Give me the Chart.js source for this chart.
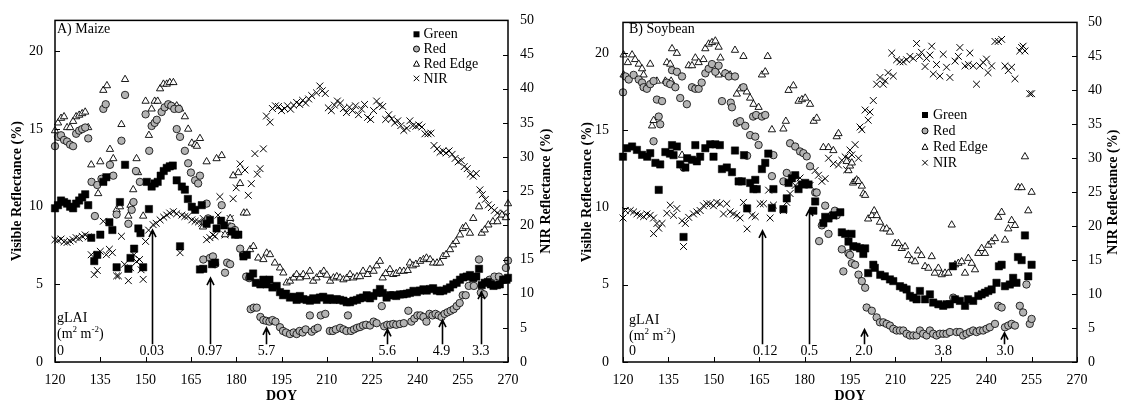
<!DOCTYPE html>
<html><head><meta charset="utf-8">
<script src="https://cdn.jsdelivr.net/npm/chart.js@4.4.0/dist/chart.umd.min.js"></script>
<style>
html,body{margin:0;padding:0;background:#fff;}
#wrap{position:relative;width:1122px;height:405px;overflow:hidden;}
canvas{position:absolute;top:0;}
</style></head><body>
<div id="wrap">
<canvas id="cA" width="561" height="405" style="left:0"></canvas>
<canvas id="cB" width="561" height="405" style="left:561px"></canvas>
</div>
<script>
// ---------- axis settings ----------
const doyMin = 120, doyMax = 270, doyStep = 15;
const visMax = 22, visStep = 5;
const nirMax = 50, nirStep = 5;
const seriesNames = ['Green', 'Red', 'Red Edge', 'NIR'];
const xTitle = 'DOY';
const leftTitle = 'Visible Reflectance (%)';
const rightTitle = 'NIR Reflectance (%)';

// ---------- Maize data [DOY, reflectance %] ----------
const maizeGreen = [[120,9.9],[121,10.1],[122,10.4],[123,10.3],[124,10.2],[125,10.0],[126,9.9],[127,10.2],[128,10.4],[129,10.6],[130,10.8],[131,10.1],
[132,8.0],[133,6.5],[134,6.9],[135,8.2],[136,11.6],[137,11.9],[138,9.0],[139,8.5],[140.4,6.1],[141.5,10.3],[143.2,12.7],[144.3,6.0],[145,6.7],[146.2,7.3],[147.6,8.6],[148.3,8.3],[149.2,6.1],
[150.4,11.6],[151.1,9.85],[152,11.3],[153,11.5],[154,11.6],[155,12.0],[156,12.3],[157,12.5],[158,12.6],[159,12.65],[160.3,11.7],[161.4,7.45],[162,11.3],[163,11.1],[164,10.5],[165.3,10.0],[166.4,9.8],[168,5.96],[168.6,10.1],[169.1,6.0],[170.2,8.9],[171.3,9.15],[172,6.3],[173,6.4],[173.5,8.6],[175,9.1],[176,8.8],[178.5,8.4],[179.6,8.2],[180.7,8.2],[182.4,6.8],[183.5,6.9],[184.6,5.5],[185.6,5.7],[186.5,5.1],[188,5.0],[189,5.3],[190,5.0],[191,5.3],[192,4.8],[193.4,4.9],[194.5,4.5],
[195.5,4.3],[196.5,4.4],[197.8,4.15],[199,4.2],[200,4.0],[201.1,4.25],[202.2,4.05],[203.3,4.0],[204.4,3.95],[205.5,4.1],[206.6,4.0],[207.7,4.15],[208.8,4.2],[210,4.0],[211,4.1],[212.2,4.0],[213.3,4.05],[214.4,4.0],[215.5,3.95],[216.6,3.85],[217.7,3.85],[218.8,3.95],[220,4.0],[221,4.1],[222,4.15],[223.2,4.3],[224.3,4.1],[225.4,4.25],[226.5,4.45],[227.6,4.7],[228.5,4.45],[229.8,4.15],[230.9,4.3],[232,4.3],[233,4.25],[234.2,4.35],[235.4,4.36],[236.5,4.4],[237.5,4.45],[238.7,4.58],[239.8,4.5],[240.9,4.6],[242,4.68],[243.1,4.6],[244.2,4.7],[245.2,4.75],[246.4,4.6],[247.5,4.55],[248.6,4.6],[249.7,4.7],[250.8,4.8],[251.9,5.0],[253,5.1],[254.1,5.3],[255.2,5.45],[256.3,5.5],[257.4,5.6],[258.5,5.4],[259.5,5.5],[260.4,6.0],[261.3,4.95],[262.3,5.1],[263.3,5.15],[264.3,5.0],[265.2,4.9],[266.3,4.95],[267.3,5.0],[268.4,5.3],[269.5,5.3],[270,5.42]];

const maizeRed = [[120,13.9],[121,14.5],[122,14.6],[123,14.3],[124,14.2],[125,14.0],[126,13.9],[127,14.7],[128,14.9],[129,15.0],[130,15.1],[131,14.4],
[132.1,11.6],[133.2,9.4],[134,11.4],[135.4,11.8],[136,16.3],[136.8,16.6],[138.2,12.7],[139.3,12.0],[140.4,9.5],[142,14.25],[143.2,17.2],[144.3,8.9],[145.4,9.8],[146,10.3],[146.8,12.3],[148.1,11.6],[150,15.95],[151.2,13.6],[152,15.2],[153,15.4],[153.7,15.6],[155.3,16.1],[156.3,16.4],[157.5,16.6],[158.5,16.5],[159.5,16.3],[160.3,15.0],[161,16.3],[161.4,14.5],[163,13.6],[164.1,12.8],[165,12.2],[166.4,11.7],[167.4,11.5],[168,12.0],[169.1,6.6],[169.7,9.0],[170.2,10.2],[170.7,9.25],[171.3,6.7],[172.3,6.8],[173,6.3],[175.2,10.1],[176.3,5.75],[177,6.4],[178,6.3],[178.5,8.7],[179.6,8.5],[181.3,7.3],[182.3,6.9],[183.3,5.5],[184.3,5.4],[184.8,3.4],[185.8,3.5],[186.8,3.5],[188,2.9],[189,2.7],[190,2.65],[191,2.6],[192,2.7],[193,2.6],[194.5,2.24],
[195.5,2.0],[196.5,1.9],[197.8,1.8],[199,1.9],[200,1.8],[201,2.0],[202,1.9],[203,2.1],[204.4,3.0],[205,1.95],[206,2.1],[207,2.2],[208,3.0],[209.5,3.1],[211,2.0],[212,2.0],[213,2.1],[214.4,2.2],[215.5,2.1],[216.5,2.0],[217,3.0],[218,2.0],[219,2.1],[220,2.2],[221,2.25],[222,2.35],[223,2.4],[224.3,2.35],[225.5,2.6],[226.5,2.5],[228.2,3.6],[229,2.3],[230,2.4],[231,2.4],[232,2.45],[233,2.4],[234.2,2.45],[235.5,2.5],[237,3.3],[238,2.6],[239,2.8],[240,3.0],[241,3.0],[242,2.9],[243,2.6],[244,3.1],[245,3.0],[246,3.1],[247,3.0],[248,2.9],[249,3.1],[250,3.2],[251,3.3],[252,3.4],[253,3.6],[254,3.8],[255,4.3],[256,4.3],[257,4.9],[258.7,4.9],[260.4,6.6],[261,4.47],[262,4.36],[263.9,5.3],[265.5,5.5],[267,5.5],[268.5,5.3],[269.3,6.06],[270,6.53]];

const maizeRedEdge = [[120,14.9],[121,15.4],[122,15.7],[123,15.8],[124,15.1],[125,15.1],[126,15.5],[127,15.8],[128,15.9],[129,16.0],[130,16.1],[131,15.1],
[132,12.7],[134.3,10.85],[135,12.9],[136,17.5],[137.2,17.8],[138.2,13.7],[139.3,13.1],[140.4,9.8],[141.5,10.0],[142,15.3],[143.2,18.2],[144.3,9.4],[145,10.1],[145.9,11.1],[147,13.1],[147.5,12.2],[149.2,9.4],[150,16.8],[151.1,14.6],[152,16.3],[153,16.8],[154,16.8],[154.8,17.6],[155.9,17.9],[157,17.9],[158,18.0],[159.2,18.0],[160.3,16.5],[161.4,16.3],[163,15.8],[164.1,15.0],[165.3,14.1],[166.4,14.0],[167,13.9],[168,14.4],[169,8.7],[170.2,12.9],[173.5,13.1],[175.2,13.3],[176.3,8.2],[178,9.25],[179,12.0],[180.7,12.2],[181.3,11.5],[182.5,9.6],[183.5,9.6],[184.6,7.24],[185.7,7.45],[187.3,6.7],[189,6.6],[190.1,7.02],[191.2,6.92],[192.8,6.38],[194.5,6.06],[195.6,5.74],[196.7,5.1],
[197.8,5.21],[199,5.42],[200,5.64],[201.1,5.42],[202.2,5.64],[203.3,5.5],[204.4,5.85],[205.5,5.21],[206.6,5.42],[207.8,5.64],[209,5.85],[210,5.6],[211.1,5.21],[212.2,5.42],[213.3,5.5],[214.4,5.42],[215.5,5.3],[216.6,5.4],[217.7,5.64],[218.8,5.42],[220,5.5],[221,5.5],[222,5.85],[223.5,5.64],[224.3,5.96],[225.5,5.85],[226.5,6.2],[227.6,6.49],[228.5,5.42],[229.5,5.7],[230.9,5.96],[232,5.64],[233,5.7],[234.2,5.85],[235.5,5.85],[236.8,5.9],[237.5,6.38],[238.5,6.2],[239.5,6.3],[240.9,6.49],[242,6.6],[243,6.7],[244.2,6.6],[245.2,6.38],[246.5,6.38],[247.5,6.38],[248.5,6.8],[249.5,6.92],[250.8,7.24],[251.8,7.55],[252.8,7.77],[254.1,8.19],[255,8.6],[256,8.72],[257.4,8.3],[258.5,9.25],[260.4,10.0],[261.3,8.3],[262.3,8.51],[263.5,8.83],[265,9.04],[266.5,9.04],[268,9.47],[269.3,9.3],[270,10.2]];

const maizeNIR = [[120,17.9],[121,17.8],[122,18.0],[123,17.6],[124,17.5],[125,17.7],[126,17.9],[127,18.2],[128,18.1],[129,18.4],[130,18.6],[131,18.3],
[132,15.7],[133,12.8],[134,13.4],[135,16.2],[136,20.6],[137,15.7],[138,16.5],[139,16.0],[140.4,12.6],[141,12.6],[142,18.4],[143,14.3],[144.3,11.9],[145,13.8],[146.2,15.7],[147,14.7],[148,15.0],[148.5,13.5],[149.2,12.1],[150,17.65],
[151,19.3],[152.5,20.1],[153.5,20.3],[154.8,20.8],[156,21.2],[157,21.5],[158,21.8],[159.2,22.0],[160.3,21.7],[161.4,16.0],[162,21.5],[163,21.3],[164,21.3],[165.3,20.8],[166.4,20.6],[167.5,20.5],[168.6,20.3],[169.1,21.0],[170.2,17.9],[171.3,18.2],[172.3,18.6],[173,18.4],[174,21.5],[174.6,24.2],[176.3,18.6],[177,20.0],[178,21.0],[179,23.9],[180,25.5],[181.3,29.0],[182.9,28.1],[184,24.4],[185,26.1],[186.2,30.5],[187,27.5],[187.9,28.3],[189,31.2],[190,36.0],
[191.2,35.1],[192,37.1],[193,37.5],[194,37.4],[195,36.8],[196,37.1],[197,37.5],[198,37.0],[199,37.6],[200,38.0],[201,37.7],[202,38.3],[203,37.9],[204,38.5],[205,39.0],[206.6,39.4],[207.7,40.4],[208.5,39.7],[209.5,39.3],[210.5,37.2],[211.5,36.8],[212.5,37.6],[213.5,38.2],[214.5,37.9],[215.5,37.1],[216.5,36.5],[217.5,37.3],[218.5,36.8],[219.5,37.5],[220.5,36.2],[221.5,37.0],[222.5,37.7],[223.5,35.8],[224.5,35.5],[225.5,36.8],[226.5,38.2],[227.5,37.6],[228.5,37.4],[229.5,35.5],[230.5,36.2],[231.5,35.6],[232.5,35.0],[233.5,35.3],[234.5,34.6],[235.5,33.9],[236.5,34.2],[237.5,35.3],[238.5,34.6],[239.5,34.5],[240.5,34.7],[241.5,34.4],[242.5,33.4],[243.5,33.4],[244.5,33.5],[245.5,31.7],[246.5,31.2],[247.5,30.7],[248.5,30.9],[249.5,30.6],[250.5,30.9],[251.5,30.4],[252.5,29.8],[253.5,29.3],[254.5,29.5],[255.5,28.6],[256.5,28.3],[257.5,27.5],[258.5,27.2],[259.5,27.6],[260.7,25.2],[261.5,24.5],[262.5,23.8],[263.5,23.0],[264.5,22.6],[265.5,22.2],[266.5,21.8],[267.5,21.5],[268.5,21.8],[269.5,21.3]];

// ---------- Soybean data [DOY, reflectance %] ----------
const soyGreen = [[120,13.3],[121.3,13.85],[123,13.96],[124.6,13.74],[126.3,13.42],[128,13.3],[129,13.53],[130.7,12.9],[131.8,11.15],[132.3,12.8],[134,13.6],[135.5,13.5],[136.2,14.05],[136.7,13.4],[137.8,13.96],[138.9,12.8],[140,8.1],[140.6,12.6],[141.2,13.2],[142.8,13.1],[143.9,14.05],[144.4,13.0],[145.5,13.3],[147.2,13.85],[148.8,14.1],[149.9,13.3],[150.5,14.1],[152,14.05],[152.7,12.5],[154.3,12.6],[156,12.3],[157,13.7],[158.2,11.7],[159.3,11.7],[160,13.4],[161,9.95],[162,11.6],[163.1,11.2],[163.7,11.8],[164.2,11.2],[165.9,12.5],[167,12.9],[168,13.5],[169.2,9.98],[169.7,11.2],[173,9.9],[174.1,10.6],[174.7,11.6],[175.8,11.9],[176.9,12.1],[178,11.2],[179.1,11.5],[180.2,11.6],[181.3,11.5],[182.9,9.8],[183.5,10.4],[186.2,9.0],[186.8,9.4],[187.9,9.3],[189.5,9.5],[191.8,9.7],[192.3,8.4],[193.4,8.3],[194.5,7.8],[195.5,8.3],[196.1,7.5],[197.2,7.46],[198.3,7.36],[199.4,7.0],[200,7.36],[201,5.76],[202.7,6.3],[203.2,6.1],[205,5.65],[206.5,5.55],[208.2,5.35],[209.3,5.24],[211.5,4.91],[212.6,4.81],[213.7,4.7],[214.8,4.28],[215.9,4.17],[217,4.06],[218.1,4.6],[219.8,4.06],[221.4,4.38],[222.5,3.85],[224.2,3.74],[225.8,3.64],[226.9,3.74],[228,3.74],[229,6.2],[229.7,4.06],[231.3,3.96],[233,3.64],[234,4.06],[235.7,3.96],[237.4,4.28],[238.5,4.38],[239.6,4.49],[240.7,4.6],[241.8,4.7],[243.4,5.13],[244.2,6.2],[245.1,6.3],[246.2,4.91],[247.8,5.02],[248.9,5.45],[250,5.13],[250.5,6.8],[251.7,6.6],[252.8,8.2],[253.9,5.55],[255,6.3]];

const soyRed = [[120,17.47],[120.8,18.5],[121.9,18.3],[123.5,18.6],[125.2,18.3],[126.3,18.1],[126.8,17.8],[127.9,17.7],[129,18.0],[130.1,18.2],[130.1,14.3],[131.2,17.0],[131.8,15.9],[132.3,15.4],[132.9,16.9],[134.5,18.1],[135.6,18.0],[136.2,18.9],[137.3,17.8],[137.8,18.8],[138.9,17.1],[139.5,18.5],[140,12.6],[141.1,16.7],[142.8,17.8],[143.9,17.7],[145,17.7],[146,18.1],[147.2,18.7],[148.3,19.0],[149.4,19.3],[150.5,18.8],[151.6,19.2],[152.7,16.9],[153.8,18.7],[155,18.5],[155.6,16.8],[156,16.5],[157,18.5],[157.6,15.5],[158.7,15.6],[159.8,17.8],[160.4,15.3],[161,13.36],[162,14.7],[163,15.9],[163.7,14.6],[164,16.0],[164.8,14.06],[165.9,15.9],[167,16.0],[169.2,12.04],[169.7,13.4],[173,11.7],[174.1,12.25],[175.2,14.17],[176.9,13.96],[178.5,13.64],[179.6,13.53],[180.7,13.32],[181.8,12.68],[183.5,10.98],[184,10.98],[184.8,7.83],[185.7,8.85],[186.8,10.13],[187.9,8.3],[189,9.5],[190,9.8],[190.6,9.5],[192.3,7.3],[192.8,5.87],[194.5,7.04],[195,6.94],[195.6,6.4],[196.7,6.3],[197.8,5.66],[198.9,5.24],[200,4.81],[200.5,3.53],[202.2,3.32],[203.8,2.89],[204.9,2.57],[206,2.57],[207.1,2.47],[208.2,2.36],[209.3,2.15],[210.4,2.04],[211.5,2.04],[212.6,2.04],[213.7,1.83],[214.8,1.72],[215.9,1.72],[217,1.72],[218.1,2.04],[219.2,1.83],[220.3,1.72],[221.4,2.04],[222.5,1.83],[223.6,1.72],[224.7,1.83],[225.8,1.83],[226.9,1.83],[228,1.94],[229.1,4.17],[230.2,1.94],[231.3,1.94],[232.4,1.72],[233.5,1.83],[234.6,1.94],[235.7,2.04],[236.8,1.94],[237.9,2.04],[239,2.04],[240.1,2.15],[241.2,2.25],[242.9,2.47],[244,3.64],[245.1,3.53],[246.2,2.25],[247.3,2.36],[248.4,2.47],[249.5,2.36],[251.1,3.64],[252.2,3.21],[253.3,5.02],[254.4,2.47],[255,2.79]];

const soyRedEdge = [[120.2,19.9],[120.2,18.6],[121.6,19.4],[123,19.9],[124,19.6],[125.2,19.3],[126.3,19.0],[126.8,18.6],[129,19.3],[129.6,15.3],[130.1,15.65],[131.2,18.2],[134,18.2],[134.5,19.4],[135.6,19.3],[135.9,18.2],[136.2,20.3],[137.8,20.0],[139.5,13.4],[141.7,19.2],[142.8,19.2],[143.9,19.7],[145,19.4],[146.6,19.6],[147.2,20.3],[148.3,20.6],[149.4,20.7],[150.5,20.8],[151.6,20.4],[151.6,18.6],[152.2,19.7],[153.8,18.7],[155.4,18.6],[157,20.2],[157.6,17.36],[158.7,17.7],[159.8,19.8],[160.9,17.5],[162,17.1],[163.1,16.7],[164.8,16.5],[165.9,18.6],[167,18.8],[167.8,19.8],[169.2,15.05],[173,15.1],[173.8,15.6],[174.7,17.6],[176.3,17.9],[178,16.9],[179.1,17.0],[180.2,17.1],[181.8,16.7],[183,15.6],[184,15.8],[186.2,13.9],[187.9,13.9],[189.5,13.7],[190.6,14.6],[191.2,14.8],[193.9,13.0],[194.5,12.4],[195,12.7],[195.6,12.9],[196,11.6],[196.7,11.7],[197.2,11.8],[197.8,11.7],[198.9,11.4],[199.4,10.9],[200,10.8],[201,9.27],[202.2,9.49],[203,9.8],[203.8,9.49],[204.9,9.06],[206,8.63],[207.1,8.63],[208.2,8.42],[209.9,7.68],[211,7.68],[212.1,7.36],[213.2,7.47],[214.3,6.9],[215.4,6.6],[216.5,6.5],[217.5,7.2],[218.6,6.9],[219.8,6.19],[220.9,6.08],[222,6.83],[223,5.76],[224.2,6.08],[225.3,5.66],[226.4,5.76],[227.5,5.76],[228.6,8.88],[229.7,6.3],[230.8,6.4],[231.9,6.5],[233,5.76],[234.1,6.72],[235.2,6.4],[236.3,5.98],[237.4,7.04],[238.5,7.36],[239.6,7.04],[240.7,7.57],[241.8,7.79],[242.9,8.0],[244,9.38],[245.1,9.7],[246.2,7.9],[247.3,8.63],[248.4,9.17],[249.5,8.85],[250.6,11.3],[251.7,11.3],[252.8,13.3],[253.9,9.8],[255,11.0]];

const soyNIR = [[120,21.2],[120.8,22.3],[122.4,22.3],[123.5,22.1],[124.6,21.8],[125.7,21.6],[126.8,21.4],[127.9,21.8],[129,21.6],[130.1,21.2],[130.1,18.9],[131.2,20.4],[131.8,19.7],[132.9,20.4],[134.5,21.9],[135.6,23.1],[136.7,21.6],[137.8,22.6],[139.5,20.8],[140,17.0],[140.6,20.4],[141.7,21.3],[143.3,21.8],[144.4,22.1],[145.5,22.3],[146.6,23.0],[147.7,23.3],[148.8,23.3],[149.9,23.0],[151,23.5],[152.1,23.3],[153.2,21.8],[154.3,23.3],[155.4,22.1],[156.5,21.8],[157.6,21.6],[158.7,21.2],[159.8,23.5],[161,19.6],[162.6,21.6],[163.7,21.4],[165.3,23.3],[166.4,23.3],[168.1,25.3],[168.6,21.2],[169.7,23.1],[173,22.3],[174.1,23.5],[175.2,24.8],[176.9,26.0],[178.5,27.1],[181.8,26.0],[183.5,28.2],[184.6,27.5],[185.7,26.6],[186.8,27.0],[187.9,30.0],[189.5,29.2],[191.2,29.0],[192.3,29.7],[193.4,30.2],[193.9,28.3],[194.5,30.0],[195,31.2],[195.6,30.5],[196.7,32.0],[197.8,30.0],[198.3,34.6],[198.9,34.2],[200,37.1],[201,35.6],[201.6,36.8],[202.7,38.5],[203.8,40.9],[204.9,41.9],[206,40.9],[206.6,41.4],[207.6,42.6],[208.8,45.5],[209.3,42.1],[210.4,44.5],[211.5,44.2],[212.6,44.2],[213.7,44.5],[214.8,45.0],[215.9,44.7],[217,46.9],[218,45.0],[218.6,45.6],[219.8,43.5],[220.3,44.7],[221.4,45.2],[222,46.5],[222.5,42.4],[223.6,43.8],[224.7,42.1],[225.8,45.3],[226.9,43.4],[228,41.9],[229.7,44.3],[230.8,45.0],[231.3,46.3],[233,43.6],[234.1,43.8],[234.6,45.5],[235.7,43.6],[236.8,40.9],[237.9,43.6],[239,44.1],[240.1,44.6],[240.6,42.6],[241.8,43.6],[242.9,47.2],[244,47.2],[245.1,47.5],[246.2,43.6],[247.3,42.9],[248.4,43.4],[249.5,41.7],[251.1,45.8],[251.7,46.3],[252.2,46.5],[252.8,45.8],[254.4,39.5],[255,39.5]];

// ---------- gLAI annotations: arrow DOY, arrow tip (visible %), label ----------
const maizeLAI = [
  {doy:122.2, tip:null, label:'0', align:'left'},
  {doy:152, tip:8.5, label:'0.03'},
  {doy:171.3, tip:5.4, label:'0.97'},
  {doy:190, tip:2.2, label:'5.7'},
  {doy:230, tip:2.1, label:'5.6'},
  {doy:248, tip:2.7, label:'4.9'},
  {doy:261, tip:4.5, label:'3.3'}
];
const soyLAI = [
  {doy:123.3, tip:null, label:'0', align:'left'},
  {doy:166, tip:8.5, label:'0.12', labelDoy:167},
  {doy:181.5, tip:9.9, label:'0.5'},
  {doy:199.6, tip:2.1, label:'2.0'},
  {doy:225.8, tip:null, label:'3.8'},
  {doy:246, tip:1.9, label:'3.0', labelDoy:246.3}
];
const laiTitle = 'gLAI';
const arrowBase = 1.15;   // arrow starts just above the labels (visible % units)
const labelLevel = 0.68;  // label centre level (visible % units)

// ---------- drawing ----------
const FONT = '"Liberation Serif", "Times New Roman", serif';
const RED_FILL = '#b3b3b3';
const xy = a => a.map(p => ({x: p[0], y: p[1]}));

function drawMarker(ctx, kind, x, y, s) {
  ctx.save();
  ctx.lineWidth = 1; ctx.strokeStyle = '#000';
  ctx.beginPath();
  if (kind === 0) { ctx.fillStyle = '#000'; ctx.fillRect(x - s/2, y - s/2, s, s); }
  else if (kind === 1) { ctx.fillStyle = RED_FILL; ctx.arc(x, y, s/2, 0, Math.PI*2); ctx.fill(); ctx.stroke(); }
  else if (kind === 2) { ctx.moveTo(x, y - s/2); ctx.lineTo(x + s/2, y + s/2.4); ctx.lineTo(x - s/2, y + s/2.4); ctx.closePath(); ctx.stroke(); }
  else { const h = s/2; ctx.moveTo(x-h,y-h); ctx.lineTo(x+h,y+h); ctx.moveTo(x+h,y-h); ctx.lineTo(x-h,y+h); ctx.stroke(); }
  ctx.restore();
}

function overlay(P) {
  return {
    id: 'overlay' + P.id,
    afterDatasetsDraw(chart) {
      const {ctx, chartArea: a, scales} = chart;
      const sx = scales.x, sy = scales.y, sy1 = scales.y1;
      ctx.save();
      // frame
      ctx.strokeStyle = '#000'; ctx.lineWidth = 1.5;
      ctx.strokeRect(a.left, a.top, a.right - a.left, a.bottom - a.top);
      // inside ticks
      ctx.lineWidth = 1;
      ctx.beginPath();
      sx.ticks.forEach(t => { const p = Math.round(sx.getPixelForValue(t.value)) + 0.5; ctx.moveTo(p, a.bottom); ctx.lineTo(p, a.bottom - 5); });
      sy.ticks.forEach(t => { const p = Math.round(sy.getPixelForValue(t.value)) + 0.5; ctx.moveTo(a.left, p); ctx.lineTo(a.left + 5, p); });
      sy1.ticks.forEach(t => { const p = Math.round(sy1.getPixelForValue(t.value)) + 0.5; ctx.moveTo(a.right, p); ctx.lineTo(a.right - 5, p); });
      ctx.stroke();
      // right axis title (reads bottom to top)
      ctx.fillStyle = '#000';
      ctx.font = 'bold 14px ' + FONT;
      ctx.textAlign = 'center'; ctx.textBaseline = 'middle';
      ctx.save();
      ctx.translate(P.rightTitleX, (a.top + a.bottom) / 2);
      ctx.rotate(-Math.PI / 2);
      ctx.fillText(rightTitle, 0, 0);
      ctx.restore();
      // panel title
      ctx.font = '14px ' + FONT;
      ctx.textAlign = 'left';
      ctx.fillText(P.title, a.left + P.textInset, 29);
      // gLAI label with units
      ctx.fillText(laiTitle, a.left + P.textInset, P.laiY);
      let ux = a.left + P.textInset;
      const uy = P.laiY + 16;
      const part = (txt, sup) => {
        ctx.font = (sup ? '9px ' : '14px ') + FONT;
        ctx.fillText(txt, ux, sup ? uy - 4 : uy);
        ux += ctx.measureText(txt).width;
      };
      part('(m', false); part('2', true); part(' m', false); part('-2', true); part(')', false);
      // arrows and gLAI values
      ctx.font = '14px ' + FONT;
      const ly = sy.getPixelForValue(labelLevel);
      const by = sy.getPixelForValue(arrowBase);
      P.lai.forEach(d => {
        const lx = sx.getPixelForValue(d.labelDoy != null ? d.labelDoy : d.doy);
        ctx.textAlign = d.align === 'left' ? 'left' : 'center';
        ctx.fillText(d.label, d.align === 'left' ? a.left + P.textInset : lx, ly);
        if (d.tip != null) {
          const ax = Math.round(sx.getPixelForValue(d.doy)) + 0.5;
          const ty = sy.getPixelForValue(d.tip);
          ctx.lineWidth = 1.6;
          ctx.beginPath();
          ctx.moveTo(ax, by); ctx.lineTo(ax, ty);
          ctx.moveTo(ax - 3.5, ty + 7); ctx.lineTo(ax, ty); ctx.lineTo(ax + 3.5, ty + 7);
          ctx.stroke();
        }
      });
      // legend
      ctx.font = '14px ' + FONT;
      ctx.textAlign = 'left'; ctx.textBaseline = 'middle';
      const sizes = [6, 6, 6, 5.5];
      chart.data.datasets.forEach((ds, i) => {
        const yy = P.legY + i * P.legDy;
        drawMarker(ctx, i, P.legX, yy, sizes[i]);
        ctx.fillStyle = '#000';
        ctx.fillText(ds.label, P.legX + P.legGap, yy + 0.5);
      });
      ctx.restore();
    }
  };
}

function makeChart(canvasId, P) {
  const tickFont = {family: FONT, size: 14};
  const datasets = [
    {label: seriesNames[0], data: xy(P.green), yAxisID: 'y', pointStyle: 'rect', pointRadius: 5.2, backgroundColor: '#000', borderColor: '#000', borderWidth: 0.5},
    {label: seriesNames[1], data: xy(P.red), yAxisID: 'y', pointStyle: 'circle', pointRadius: 3.7, backgroundColor: RED_FILL, borderColor: '#000', borderWidth: 0.8},
    {label: seriesNames[2], data: xy(P.redEdge), yAxisID: 'y', pointStyle: 'triangle', pointRadius: 4.2, backgroundColor: 'rgba(255,255,255,0.9)', borderColor: '#000', borderWidth: 0.9},
    {label: seriesNames[3], data: xy(P.nir), yAxisID: 'y1', pointStyle: 'crossRot', pointRadius: 4.8, backgroundColor: '#000', borderColor: '#000', borderWidth: 1}
  ].map(d => Object.assign(d, {showLine: false, clip: false, pointHoverRadius: d.pointRadius}));
  return new Chart(document.getElementById(canvasId), {
    type: 'scatter',
    data: {datasets},
    options: {
      responsive: false, animation: false,
      layout: {padding: {top: 17, left: 0, right: 0, bottom: 0}},
      plugins: {legend: {display: false}, tooltip: {enabled: false}},
      scales: {
        x: {
          type: 'linear', min: doyMin, max: doyMax,
          ticks: {stepSize: doyStep, font: tickFont, color: '#000', padding: 10, maxRotation: 0, includeBounds: false},
          grid: {display: false, drawTicks: false}, border: {display: false},
          title: {display: true, text: xTitle, color: '#000', font: {family: FONT, size: 14, weight: 'bold'}, padding: {top: 0, bottom: 0}},
          afterFit(s) { s.height = 43; }
        },
        y: {
          position: 'left', min: 0, max: visMax,
          ticks: {stepSize: visStep, includeBounds: false, font: tickFont, color: '#000', padding: P.leftPad},
          grid: {display: false, drawTicks: false}, border: {display: false},
          title: {display: true, text: leftTitle, color: '#000', font: {family: FONT, size: 14, weight: 'bold'}, padding: {top: P.leftTitlePad, bottom: 0}},
          afterFit(s) { s.width = P.leftW; }
        },
        y1: {
          position: 'right', min: 0, max: nirMax,
          ticks: {stepSize: nirStep, includeBounds: false, font: tickFont, color: '#000', padding: P.rightPad},
          grid: {display: false, drawTicks: false}, border: {display: false},
          afterFit(s) { s.width = P.rightW; }
        }
      }
    },
    plugins: [overlay(P)]
  });
}

makeChart('cA', {
  id: 'A', title: 'A) Maize',
  green: maizeGreen, red: maizeRed, redEdge: maizeRedEdge, nir: maizeNIR, lai: maizeLAI,
  leftW: 55, rightW: 53, leftPad: 12, rightPad: 12, leftTitlePad: 8.6,
  rightTitleX: 546, textInset: 2, laiY: 318,
  legX: 416.5, legGap: 7, legY: 34.3, legDy: 14.7
});
makeChart('cB', {
  id: 'B', title: 'B) Soybean',
  green: soyGreen, red: soyRed, redEdge: soyRedEdge, nir: soyNIR, lai: soyLAI,
  leftW: 62, rightW: 45, leftPad: 14, rightPad: 11, leftTitlePad: 17.6,
  rightTitleX: 552, textInset: 6, laiY: 320,
  legX: 364, legGap: 8, legY: 115, legDy: 15.9
});
</script>
</body></html>
